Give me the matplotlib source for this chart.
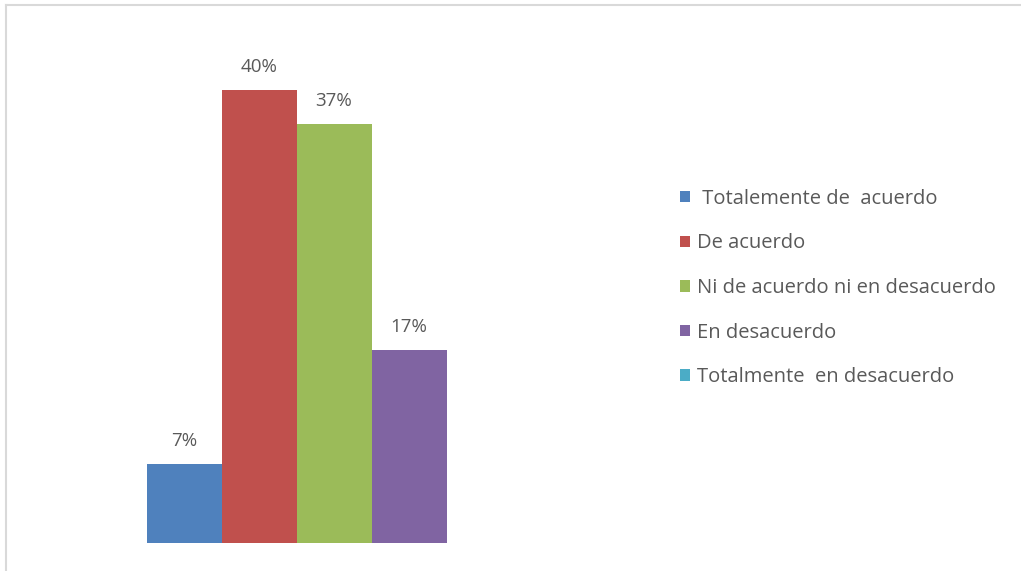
import matplotlib
matplotlib.use("Agg")
import matplotlib.pyplot as plt
from matplotlib.lines import Line2D

# survey answers (share of respondents)
categorias = [" Totalemente de  acuerdo", "De acuerdo",
              "Ni de acuerdo ni en desacuerdo", "En desacuerdo",
              "Totalmente  en desacuerdo"]
valores = [0.07, 0.40, 0.37, 0.17, 0.0]
etiquetas = ["7%", "40%", "37%", "17%", ""]
colores = ["#4f81bd", "#c0504d", "#9bbb59", "#8064a2", "#4bacc6"]

W, H = 1021, 571
fig = plt.figure(figsize=(W / 100, H / 100), dpi=100)
plt.rcParams['font.family'] = ['Open Sans', 'DejaVu Sans']

# axes placed in pixels: 75 px per bar, baseline at y=543
ax = fig.add_axes([100 / W, (H - 543) / H, 450 / W, 509.6 / H])
ax.set_xlim(-84 / 75, -84 / 75 + 6)
ax.set_ylim(0, 0.45)
ax.axis("off")

barras = []
for i in range(len(valores)):
    b = ax.bar(i, valores[i], width=1.0, color=colores[i], label=categorias[i])
    barras.append(b)
    if etiquetas[i]:
        ax.annotate(etiquetas[i], (i, valores[i]), xytext=(0, 14),
                    textcoords="offset pixels", ha="center", va="bottom",
                    fontsize=13.5, color="#595959")

leg = fig.legend(handles=[b[0] for b in barras], labels=categorias,
                 loc="center left", bbox_to_anchor=(680 / W, 1 - 288 / H),
                 frameon=False, fontsize=14.5, labelcolor="#595959",
                 handlelength=0.5, handleheight=0.5, handletextpad=0.35,
                 labelspacing=1.22, borderpad=0, borderaxespad=0)

# chart border (only top and left visible in the crop)
fig.add_artist(Line2D([6 / W, 6 / W], [0, 1 - 5 / H], color="#d9d9d9", lw=1.5))
fig.add_artist(Line2D([6 / W, 1], [1 - 5 / H, 1 - 5 / H], color="#d9d9d9", lw=1.5))

fig.savefig("out.png", dpi=100)
